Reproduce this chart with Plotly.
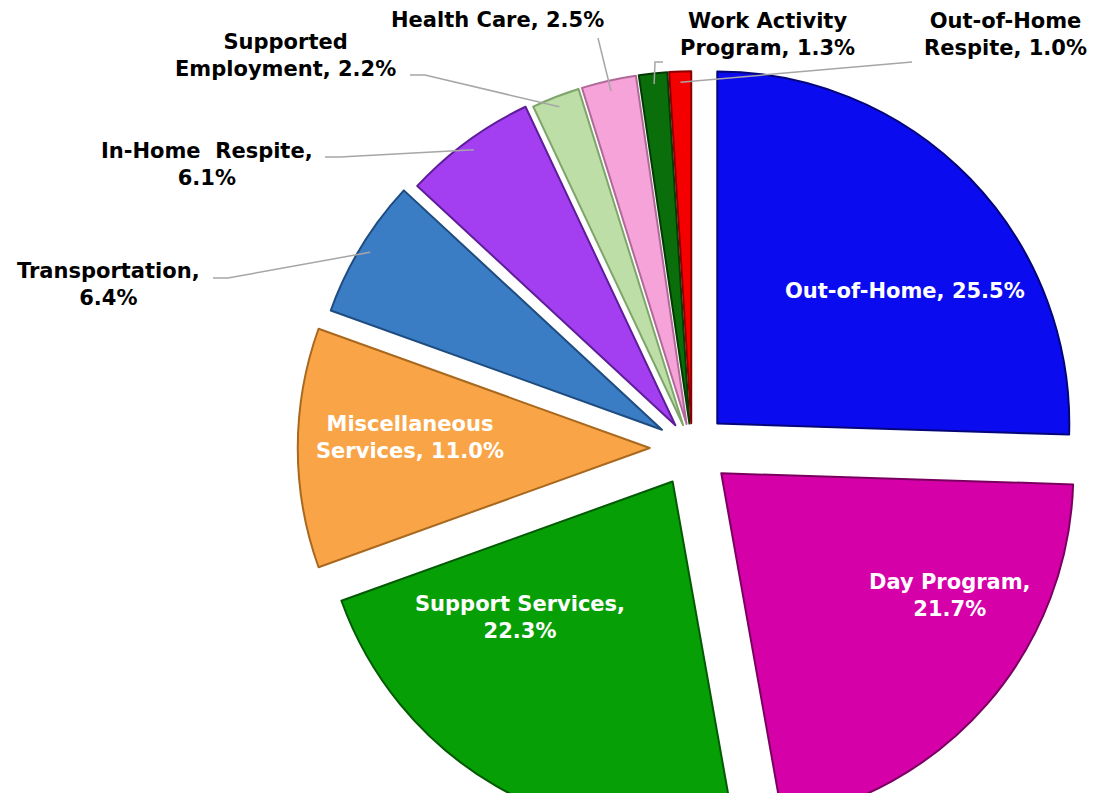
import math
import plotly.graph_objects as go

# ---- data -------------------------------------------------------------
categories = [
    "Out-of-Home", "Day Program", "Support Services", "Miscellaneous Services",
    "Transportation", "In-Home Respite", "Supported Employment", "Health Care",
    "Work Activity Program", "Out-of-Home Respite",
]
shares = [25.5, 21.7, 22.3, 11.0, 6.4, 6.1, 2.2, 2.5, 1.3, 1.0]

# how each label wraps ({v} is replaced by the share)
label_formats = [
    "Out-of-Home, {v}", "Day Program,<br>{v}", "Support Services,<br>{v}",
    "Miscellaneous<br>Services, {v}", "Transportation,<br>{v}",
    "In-Home  Respite,<br>{v}", "Supported<br>Employment, {v}",
    "Health Care, {v}", "Work Activity<br>Program, {v}", "Out-of-Home<br>Respite, {v}",
]

# ---- styling ----------------------------------------------------------
fills = ["#0B0BF0", "#D600A8", "#06A006", "#F9A547", "#3A7DC4",
         "#A33FF0", "#BEDEA8", "#F5A3D9", "#0A6E0A", "#F50000"]
edges = ["#05057A", "#7A0060", "#035A03", "#A8681E", "#1E4C80",
         "#5E1E9A", "#7FA66A", "#B06A98", "#043A04", "#8A0000"]
pulls = [0.10, 0.11, 0.11, 0.12, 0.10, 0.08, 0.07, 0.07, 0.07, 0.07]

W, H = 1097, 845           # page taller than the view; the pie runs off the bottom
CX, CY, R = 692, 448, 352  # pie centre and radius in pixels
FONT = "DejaVu Sans"
FS = 21

# label centres (px) and text colour; leader-line start points (px) for outside labels
label_pos = [(905, 291), (950, 595), (520, 617), (410, 438), (108, 285),
             (207, 164), (285, 56), (497, 20), (767, 34), (1005, 34)]
label_color = ["white"] * 4 + ["black"] * 6
leader_start = {
    4: [(213, 278), (228, 278)],
    5: [(325, 157), (340, 157)],
    6: [(410, 75), (425, 75)],
    7: [(598, 38)],
    8: [(663, 62), (655, 62)],
    9: [(912, 62)],
}

# pie domain sized so radius R results (plotly: r = half box / (1 + max pull))
half = R * (1 + max(pulls))
dom_x = [(CX - half) / W, (CX + half) / W]
dom_y = [1 - (CY + half) / H, 1 - (CY - half) / H]


def px_to_paper(x, y):
    return x / W, 1 - y / H


fig = go.Figure(
    go.Pie(
        labels=categories,
        values=shares,
        sort=False,
        direction="clockwise",
        rotation=0,
        pull=pulls,
        marker=dict(colors=fills, line=dict(color=edges, width=2)),
        textinfo="none",
        hovertemplate="%{label}: %{value:.1f}%<extra></extra>",
        domain=dict(x=dom_x, y=dom_y),
        showlegend=False,
    )
)

# labels
annotations = []
for i, (fmt, v) in enumerate(zip(label_formats, shares)):
    text = fmt.format(v=f"{v:.1f}%")
    x, y = px_to_paper(*label_pos[i])
    annotations.append(dict(
        x=x, y=y, xref="paper", yref="paper", xanchor="center", yanchor="middle",
        text="<b>" + text + "</b>", showarrow=False, align="center",
        font=dict(family=FONT, size=FS, color=label_color[i]),
    ))

# leader lines from each outside label to the outer edge of its slice
shapes = []
total = sum(shares)
cum = 0.0
for i, v in enumerate(shares):
    mid = 2 * math.pi * (cum + v / 2) / total
    cum += v
    if i not in leader_start:
        continue
    reach = (pulls[i] + 0.97) * R
    tip = (CX + reach * math.sin(mid), CY - reach * math.cos(mid))
    pts = leader_start[i] + [tip]
    path = "M " + " L ".join(
        "{:.4f},{:.4f}".format(*px_to_paper(px, py)) for px, py in pts)
    shapes.append(dict(type="path", path=path, xref="paper", yref="paper",
                       line=dict(color="#A6A6A6", width=1.5)))

fig.update_layout(
    width=W, height=H,
    margin=dict(l=0, r=0, t=0, b=0),
    paper_bgcolor="white", plot_bgcolor="white",
    annotations=annotations, shapes=shapes,
)

fig.write_html(
    "out.html",
    post_script="document.body.style.margin='0';document.body.style.overflow='hidden';",
)
